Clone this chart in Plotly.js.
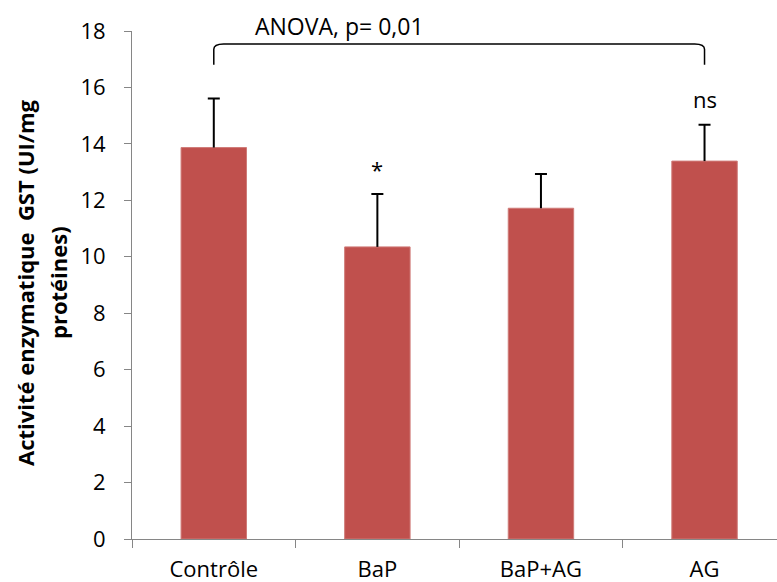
<!DOCTYPE html>
<html>
<head>
<meta charset="utf-8">
<script src="https://cdn.plot.ly/plotly-3.0.1.min.js"></script>
<style>html,body{margin:0;padding:0;background:#fff}#chart{width:777px;height:582px}</style>
</head>
<body>
<div id="chart"></div>
<script>
const categories = ["Contrôle", "BaP", "BaP+AG", "AG"];
const means = [13.87, 10.35, 11.72, 13.39];
const errors = [1.74, 1.87, 1.21, 1.29];
const signif = ["", "*", "", "ns"];
const yTicks = [0, 2, 4, 6, 8, 10, 12, 14, 16, 18];
const anovaText = "ANOVA, p= 0,01";
const yTitleLines = ["Activité enzymatique  GST (UI/mg", "protéines)"];

const FONT = "'Open Sans', sans-serif";
const tops = means.map((m, i) => m + errors[i]);

const barTrace = {
  type: "bar",
  x: categories,
  y: means,
  marker: {color: "#C0504D", line: {color: "#CF7B78", width: 1}},
  width: 0.4,
  error_y: {type: "data", array: errors, arrayminus: means.map(() => 0), symmetric: false,
            color: "#000", thickness: 2, width: 0},
  hoverinfo: "skip"
};
const capTrace = {
  type: "scatter",
  mode: "markers",
  x: categories,
  y: tops,
  marker: {size: 1, opacity: 0},
  error_y: {type: "data", array: means.map(() => 0), color: "#000", thickness: 2, width: 6},
  hoverinfo: "skip"
};

const annotations = [];
signif.forEach((s, i) => {
  if (!s) return;
  annotations.push({x: categories[i], y: tops[i], xref: "x", yref: "y", text: s, showarrow: false,
    yanchor: "bottom", yshift: s === "*" ? 8 : 9, font: {family: FONT, size: 22, color: "#000"}});
});
annotations.push({x: 0.767, y: 17.55, xref: "x", yref: "y", text: anovaText, showarrow: false,
  yanchor: "bottom", yshift: 0, font: {family: FONT, size: 23, color: "#000"}});
annotations.push({x: 25, y: 0.504, xref: "paper", yref: "paper", text: "<b>" + yTitleLines[0] + "</b>",
  textangle: -90, showarrow: false, font: {family: FONT, size: 22, color: "#000"}, xanchor: "center"});
annotations.push({x: 58, y: 0.504, xref: "paper", yref: "paper", text: "<b>" + yTitleLines[1] + "</b>",
  textangle: -90, showarrow: false, font: {family: FONT, size: 22, color: "#000"}, xanchor: "center"});

const layout = {
  width: 777, height: 582,
  margin: {l: 132, r: 0, t: 31, b: 43, pad: 0},
  paper_bgcolor: "#fff", plot_bgcolor: "#fff",
  showlegend: false,
  font: {family: FONT, color: "#000"},
  xaxis: {type: "category", range: [-0.5, 3.443], showline: true, linecolor: "#868686", linewidth: 1,
          ticks: "outside", tickson: "boundaries", ticklen: 8, tickcolor: "#868686", ticklabelstandoff: 11,
          tickfont: {family: FONT, size: 22, color: "#000"}, showgrid: false, zeroline: false, fixedrange: true},
  yaxis: {range: [0, 18], tickvals: yTicks, showline: true, linecolor: "#868686", linewidth: 1,
          ticks: "outside", ticklen: 7, tickcolor: "#868686", ticklabelstandoff: 14,
          tickfont: {family: FONT, size: 22, color: "#000"}, showgrid: false, zeroline: false, fixedrange: true},
  shapes: [{type: "path", xref: "x", yref: "y",
            path: "M 0,16.8 L 0,17.35 Q 0,17.54 0.06,17.54 L 2.94,17.54 Q 3,17.54 3,17.35 L 3,16.8",
            line: {color: "#000", width: 1.5}}],
  annotations: annotations
};

const plotW = 777 - 132;
annotations.forEach(a => { if (a.xref === "paper" && a.x > 1) a.x = (a.x - 132) / plotW; });

Plotly.newPlot("chart", [barTrace, capTrace], layout, {displayModeBar: false, staticPlot: true});
</script>
</body>
</html>
